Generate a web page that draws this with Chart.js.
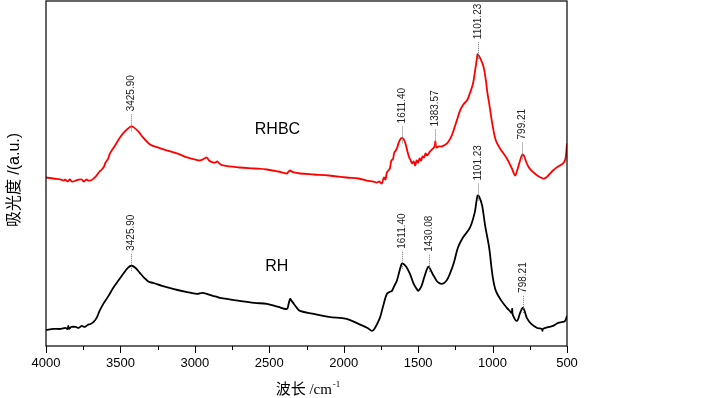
<!DOCTYPE html>
<html>
<head>
<meta charset="utf-8">
<script src="https://cdn.jsdelivr.net/npm/chart.js@4"></script>
<style>
  body { margin: 0; background: #fff; }
</style>
</head>
<body>
<canvas id="ftirChart" width="722" height="398"></canvas>
<script>
// RHBC (red) spectrum
const rhbcWavenumber = [4000, 3950, 3900, 3880, 3870, 3855, 3840, 3825, 3800, 3780, 3760, 3745, 3730, 3715, 3700, 3680, 3660, 3640, 3625, 3610, 3600, 3585, 3570, 3540, 3503, 3470, 3440, 3426, 3410, 3380, 3348, 3301, 3250, 3190, 3120, 3053, 3000, 2965, 2935, 2920, 2905, 2880, 2860, 2850, 2835, 2810, 2700, 2600, 2516, 2440, 2382, 2370, 2360, 2350, 2335, 2294, 2200, 2100, 1980, 1900, 1845, 1800, 1778, 1760, 1745, 1730, 1720, 1710, 1700, 1690, 1680, 1670, 1660, 1650, 1640, 1630, 1615, 1602, 1590, 1580, 1570, 1560, 1550, 1540, 1530, 1520, 1510, 1500, 1490, 1480, 1470, 1460, 1450, 1440, 1420, 1400, 1390, 1384, 1378, 1360, 1340, 1306, 1280, 1262, 1240, 1218, 1195, 1171, 1150, 1131, 1115, 1104, 1101, 1095, 1080, 1060, 1045, 1035, 1023, 1000, 978, 950, 904, 870, 849, 835, 815, 800, 790, 778, 760, 740, 700, 660, 640, 620, 594, 560, 526, 510, 500];
const rhbcAbsorbance = [1.68, 1.67, 1.66, 1.65, 1.66, 1.64, 1.66, 1.64, 1.65, 1.66, 1.66, 1.64, 1.66, 1.65, 1.65, 1.67, 1.70, 1.74, 1.76, 1.79, 1.83, 1.86, 1.92, 1.99, 2.08, 2.14, 2.18, 2.19, 2.18, 2.14, 2.08, 2.01, 1.98, 1.95, 1.92, 1.88, 1.86, 1.85, 1.87, 1.88, 1.85, 1.83, 1.83, 1.84, 1.82, 1.80, 1.78, 1.77, 1.76, 1.74, 1.72, 1.74, 1.75, 1.74, 1.73, 1.72, 1.71, 1.70, 1.68, 1.67, 1.65, 1.64, 1.63, 1.64, 1.62, 1.68, 1.66, 1.73, 1.75, 1.77, 1.85, 1.86, 1.93, 1.95, 1.98, 2.03, 2.07, 2.07, 2.04, 1.99, 1.93, 1.88, 1.85, 1.82, 1.84, 1.80, 1.85, 1.83, 1.87, 1.85, 1.89, 1.88, 1.92, 1.90, 1.94, 1.97, 1.99, 2.04, 1.98, 1.99, 1.99, 2.02, 2.08, 2.15, 2.25, 2.35, 2.41, 2.45, 2.53, 2.62, 2.77, 2.88, 2.91, 2.90, 2.86, 2.78, 2.65, 2.53, 2.42, 2.20, 2.05, 1.97, 1.87, 1.77, 1.70, 1.75, 1.85, 1.91, 1.90, 1.85, 1.79, 1.75, 1.70, 1.67, 1.68, 1.71, 1.75, 1.79, 1.82, 1.87, 2.02];

// RH (black) spectrum
const rhWavenumber = [4000, 3950, 3900, 3870, 3855, 3850, 3845, 3830, 3800, 3780, 3760, 3740, 3720, 3700, 3680, 3660, 3640, 3615, 3580, 3548, 3510, 3481, 3450, 3426, 3400, 3370, 3340, 3310, 3281, 3220, 3147, 3060, 2986, 2950, 2919, 2880, 2850, 2831, 2700, 2600, 2516, 2440, 2382, 2370, 2360, 2350, 2340, 2320, 2294, 2200, 2100, 1980, 1900, 1840, 1810, 1790, 1757, 1735, 1710, 1690, 1676, 1660, 1643, 1625, 1610, 1600, 1580, 1555, 1530, 1510, 1500, 1480, 1460, 1440, 1430, 1420, 1400, 1388, 1370, 1340, 1310, 1287, 1260, 1233, 1200, 1152, 1120, 1101, 1090, 1070, 1050, 1023, 1000, 978, 940, 904, 885, 872, 868, 864, 836, 815, 798, 785, 770, 740, 700, 668, 665, 662, 620, 594, 560, 530, 513, 500];
const rhAbsorbance = [0.16, 0.17, 0.17, 0.18, 0.17, 0.20, 0.17, 0.19, 0.19, 0.18, 0.20, 0.19, 0.21, 0.22, 0.24, 0.28, 0.35, 0.42, 0.50, 0.58, 0.66, 0.72, 0.78, 0.80, 0.78, 0.73, 0.68, 0.64, 0.63, 0.60, 0.57, 0.54, 0.52, 0.53, 0.52, 0.50, 0.49, 0.48, 0.45, 0.43, 0.42, 0.39, 0.37, 0.42, 0.47, 0.45, 0.43, 0.39, 0.35, 0.32, 0.29, 0.27, 0.22, 0.18, 0.15, 0.18, 0.28, 0.40, 0.52, 0.54, 0.55, 0.60, 0.65, 0.75, 0.82, 0.82, 0.79, 0.72, 0.62, 0.57, 0.55, 0.59, 0.68, 0.77, 0.79, 0.77, 0.71, 0.68, 0.64, 0.62, 0.65, 0.72, 0.83, 0.98, 1.08, 1.18, 1.33, 1.50, 1.49, 1.40, 1.20, 0.98, 0.70, 0.55, 0.45, 0.38, 0.35, 0.33, 0.37, 0.31, 0.25, 0.33, 0.38, 0.35, 0.28, 0.22, 0.18, 0.17, 0.15, 0.17, 0.19, 0.20, 0.23, 0.24, 0.25, 0.30];

// marked peaks
const rhbcPeaks = [3425.90, 1611.40, 1383.57, 1101.23, 799.21];
const rhPeaks = [3425.90, 1611.40, 1430.08, 1101.23, 798.21];

// sample names and where they sit (wavenumber, absorbance)
const seriesNames = ['RHBC', 'RH'];
const nameWavenumber = [2445, 2450];
const nameAbsorbance = [2.16, 0.79];

const xTicks = [4000, 3500, 3000, 2500, 2000, 1500, 1000, 500];
const xTitle = '波长 /cm';
const xTitleSup = '-1';
const yTitle = '吸光度 /(a.u.)';

function toPoints(xs, ys) {
    return xs.map((x, i) => ({x: x, y: ys[i]}));
}

// peak height taken from the series itself
function peakValue(xs, ys, wn) {
    let best = -Infinity;
    xs.forEach((x, i) => {
        if (Math.abs(x - wn) <= 8 && ys[i] > best) best = ys[i];
    });
    return best;
}

const framePlugin = {
    id: 'frame',
    afterDraw(chart) {
        const ctx = chart.ctx;
        const area = chart.chartArea;
        const xs = chart.scales.x;
        const ys = chart.scales.y;
        ctx.save();

        // box
        ctx.strokeStyle = '#000';
        ctx.lineWidth = 1.2;
        ctx.strokeRect(area.left, area.top, area.right - area.left, area.bottom - area.top);

        // outward ticks, minor every 250
        ctx.lineWidth = 1;
        for (let v = 500; v <= 4000; v += 250) {
            const px = Math.round(xs.getPixelForValue(v)) + 0.5;
            ctx.beginPath();
            ctx.moveTo(px, area.bottom);
            ctx.lineTo(px, area.bottom + (v % 500 === 0 ? 7 : 4));
            ctx.stroke();
        }

        // peak markers
        const groups = [
            {peaks: rhbcPeaks, xs: rhbcWavenumber, ys: rhbcAbsorbance},
            {peaks: rhPeaks, xs: rhWavenumber, ys: rhAbsorbance}
        ];
        ctx.font = '10px "Liberation Sans", Arial';
        ctx.textBaseline = 'middle';
        ctx.textAlign = 'left';
        groups.forEach(g => {
            g.peaks.forEach(wn => {
                const px = Math.round(xs.getPixelForValue(wn)) + 0.5;
                const py = ys.getPixelForValue(peakValue(g.xs, g.ys, wn));
                ctx.strokeStyle = '#777';
                ctx.setLineDash([1, 1]);
                ctx.beginPath();
                ctx.moveTo(px, py - 12);
                ctx.lineTo(px, py + 5);
                ctx.stroke();
                ctx.setLineDash([]);
                ctx.save();
                ctx.translate(px, py - 15);
                ctx.rotate(-Math.PI / 2);
                ctx.fillStyle = '#222';
                ctx.fillText(wn.toFixed(2), 0, 0);
                ctx.restore();
            });
        });

        // sample names
        ctx.font = '16px "Liberation Sans", Arial';
        ctx.textAlign = 'center';
        ctx.fillStyle = '#000';
        seriesNames.forEach((name, i) => {
            ctx.fillText(name, xs.getPixelForValue(nameWavenumber[i]), ys.getPixelForValue(nameAbsorbance[i]));
        });

        // x title with superscript
        ctx.textAlign = 'left';
        ctx.textBaseline = 'alphabetic';
        ctx.font = '15px "Liberation Serif", "Noto Sans CJK SC"';
        const mainW = ctx.measureText(xTitle).width;
        ctx.font = '9px "Liberation Serif", "Noto Sans CJK SC"';
        const supW = ctx.measureText(xTitleSup).width;
        const startX = (area.left + area.right) / 2 + 1 - (mainW + supW) / 2;
        ctx.font = '15px "Liberation Serif", "Noto Sans CJK SC"';
        ctx.fillText(xTitle, startX, 394);
        ctx.font = '9px "Liberation Serif", "Noto Sans CJK SC"';
        ctx.fillText(xTitleSup, startX + mainW + 1, 387);

        // y title
        ctx.save();
        ctx.translate(15, 180);
        ctx.rotate(-Math.PI / 2);
        ctx.textAlign = 'center';
        ctx.textBaseline = 'middle';
        ctx.font = '16px "Liberation Sans", "Noto Sans CJK SC"';
        ctx.fillText(yTitle, 0, 0);
        ctx.restore();

        ctx.restore();
    }
};

new Chart(document.getElementById('ftirChart'), {
    type: 'line',
    data: {
        datasets: [
            {
                label: 'RHBC',
                data: toPoints(rhbcWavenumber, rhbcAbsorbance),
                borderColor: '#ff0000',
                borderWidth: 1.8,
                pointRadius: 0,
                tension: 0.35
            },
            {
                label: 'RH',
                data: toPoints(rhWavenumber, rhAbsorbance),
                borderColor: '#000000',
                borderWidth: 1.8,
                pointRadius: 0,
                tension: 0.35
            }
        ]
    },
    options: {
        responsive: false,
        animation: false,
        devicePixelRatio: 1,
        layout: {
            padding: {left: 46, right: 155, top: 1, bottom: 0}
        },
        scales: {
            x: {
                type: 'linear',
                reverse: true,
                min: 500,
                max: 4000,
                afterBuildTicks: scale => {
                    scale.ticks = xTicks.map(v => ({value: v}));
                },
                afterFit: scale => {
                    scale.height = 52;
                },
                ticks: {
                    color: '#000',
                    font: {family: '"Liberation Sans", Arial', size: 13},
                    padding: 3,
                    maxRotation: 0,
                    autoSkip: false,
                    callback: value => String(value)
                },
                grid: {
                    display: true,
                    drawOnChartArea: false,
                    color: 'transparent',
                    tickLength: 7
                },
                border: {display: false}
            },
            y: {
                display: false,
                min: 0,
                max: 3.44
            }
        },
        plugins: {
            legend: {display: false},
            tooltip: {enabled: false},
            title: {display: false}
        }
    },
    plugins: [framePlugin]
});
</script>
</body>
</html>
